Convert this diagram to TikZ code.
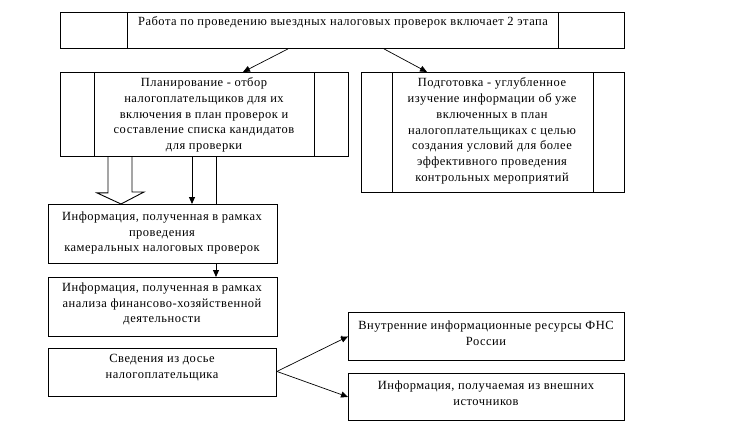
\documentclass[tikz,border=0pt]{standalone}
\usepackage{fontspec}
\setmainfont{Liberation Serif}
\newfontfamily\reffont[LetterSpace=4]{Liberation Serif}
\usetikzlibrary{arrows.meta}
\begin{document}
\begin{tikzpicture}[x=1pt,y=-1pt,line width=0.9pt,
  box/.style={draw,rectangle,inner sep=0pt,anchor=north west},
  txt/.style={align=center,inner sep=0pt,font=\reffont\fontsize{12.5}{15.75}\selectfont},
  tip/.style={-{Triangle[length=7pt,width=6pt]}},
  thin/.style={line width=0.7pt}]
\useasboundingbox (0,0) rectangle (733,421);
% boxes
\node[box,minimum width=564pt,minimum height=36pt] (top) at (60,12) {};
\node[box,minimum width=288pt,minimum height=84pt] (plan) at (60,72) {};
\node[box,minimum width=263pt,minimum height=120pt] (prep) at (361,72) {};
\node[box,minimum width=229pt,minimum height=59pt] (info1) at (48,204) {};
\node[box,minimum width=229pt,minimum height=59pt] (info2) at (48,277) {};
\node[box,minimum width=228pt,minimum height=48pt] (dos) at (48,348) {};
\node[box,minimum width=276pt,minimum height=48pt] (int) at (348,312) {};
\node[box,minimum width=276pt,minimum height=47pt] (ext) at (348,373) {};
% inner vertical lines
\draw ([xshift=67pt]top.north west) -- ([xshift=67pt]top.south west);
\draw ([xshift=-66pt]top.north east) -- ([xshift=-66pt]top.south east);
\draw ([xshift=34pt]plan.north west) -- ([xshift=34pt]plan.south west);
\draw ([xshift=-34pt]plan.north east) -- ([xshift=-34pt]plan.south east);
\draw ([xshift=31pt]prep.north west) -- ([xshift=31pt]prep.south west);
\draw ([xshift=-31pt]prep.north east) -- ([xshift=-31pt]prep.south east);
% texts
\node[txt] (ttop) at (343,22) {Работа по проведению выездных налоговых проверок включает 2 этапа};
\node[txt] (tplan) at (204,115) {Планирование - отбор\\налогоплательщиков для их\\включения в план проверок и\\составление списка кандидатов\\для проверки};
\node[txt] (tprep) at (492,131) {Подготовка - углубленное\\изучение информации об уже\\включенных в план\\налогоплательщиках с целью\\создания условий для более\\эффективного проведения\\контрольных мероприятий};
\node[txt] (tinfo1) at (162,233) {Информация, полученная в рамках\\проведения\\камеральных налоговых проверок};
\node[txt] (tinfo2) at (162,304) {Информация, полученная в рамках\\анализа финансово-хозяйственной\\деятельности};
\node[txt] (tdos) at (162,368) {Сведения из досье\\налогоплательщика};
\node[txt] (tint) at (486,333) {Внутренние информационные ресурсы ФНС\\России};
\node[txt] (text) at (486,393) {Информация, получаемая из внешних\\источников};
\node[inner sep=0pt,anchor=base,font=\reffont\fontsize{12.5}{15.75}\selectfont] (dot) at (342,337) {.};
% connectors
\draw[tip,thin] ([xshift=228pt]top.south west) -- ([xshift=183pt]plan.north west);
\draw[tip,thin] ([xshift=324pt]top.south west) -- ([xshift=66pt]prep.north west);
\draw[line join=miter] ([xshift=48pt]plan.south west) -- ++(0,36) -- ++(-11,0)
  -- ([xshift=73pt]info1.north west) -- ++(23,-12) -- ++(-12,0) -- ++(0,-36);
\draw[tip] ([xshift=132pt]plan.south west) -- ([xshift=144pt]info1.north west);
\draw ([xshift=156pt]plan.south west) -- ([xshift=168pt]info1.north west);
\draw[tip] ([xshift=168pt]info1.south west) -- ([xshift=168pt]info2.north west);
\coordinate (fork) at ([yshift=1pt]dos.east);
\draw[tip,thin] (fork) -- (int.west);
\draw[tip,thin] (fork) -- (ext.west);
\end{tikzpicture}
\end{document}
